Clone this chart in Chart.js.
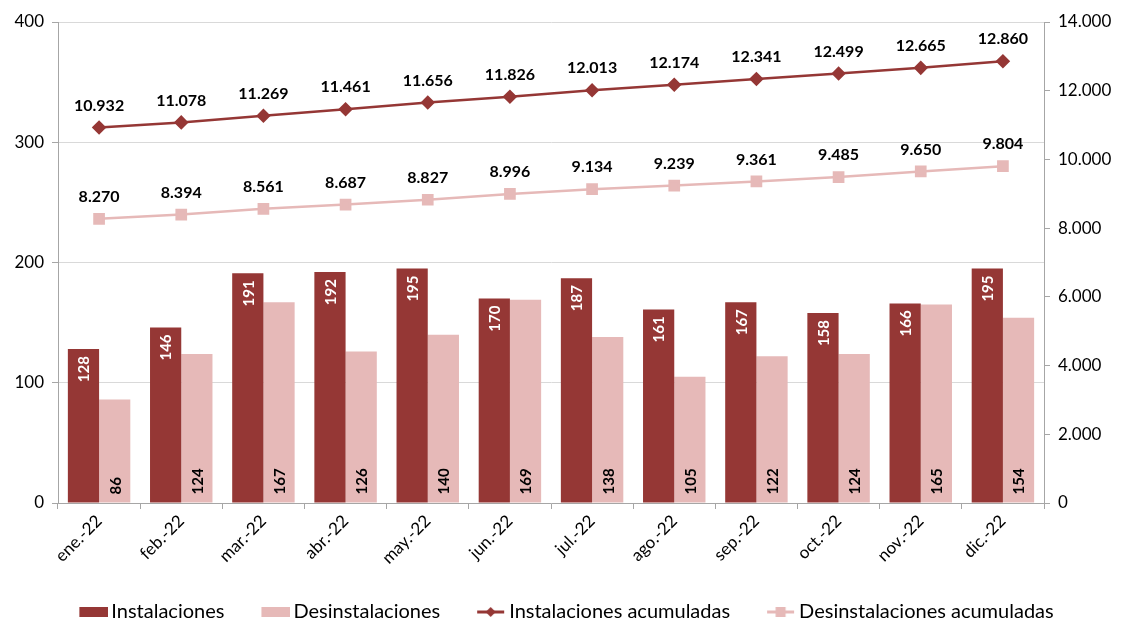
<!DOCTYPE html>
<html>
<head>
<meta charset="utf-8">
<script src="https://cdn.jsdelivr.net/npm/chart.js@4/dist/chart.umd.min.js"></script>
<style>
  html, body { margin: 0; padding: 0; background: #fff; }
  #wrap { width: 1126px; height: 624px; }
</style>
</head>
<body>
<div id="wrap"><canvas id="chart" width="1126" height="624"></canvas></div>
<script>
const months = ['ene.-22', 'feb.-22', 'mar.-22', 'abr.-22', 'may.-22', 'jun.-22',
                'jul.-22', 'ago.-22', 'sep.-22', 'oct.-22', 'nov.-22', 'dic.-22'];
const instalaciones = [128, 146, 191, 192, 195, 170, 187, 161, 167, 158, 166, 195];
const desinstalaciones = [86, 124, 167, 126, 140, 169, 138, 105, 122, 124, 165, 154];
const instAcumuladas = [10932, 11078, 11269, 11461, 11656, 11826, 12013, 12174, 12341, 12499, 12665, 12860];
const desinstAcumuladas = [8270, 8394, 8561, 8687, 8827, 8996, 9134, 9239, 9361, 9485, 9650, 9804];
const leftTicks = [0, 100, 200, 300, 400];
const rightTicks = [0, 2000, 4000, 6000, 8000, 10000, 12000, 14000];

const DARK = '#953735';
const PINK = '#E6B9B8';
const FONT = 'Lato, "DejaVu Sans", sans-serif';
const LEGEND_SIZE = 20;
const ICON_W = 29;

// miles con punto, como en el original
function fmt(v) {
    return String(v).replace(/\B(?=(\d{3})+(?!\d))/g, '.');
}

// iconos de la leyenda: el dibujo va pegado a la derecha para que quede junto al texto
function legendIcon(kind, color) {
    const shift = 7;
    const c = document.createElement('canvas');
    c.width = ICON_W + 2 * shift;
    c.height = 14;
    const g = c.getContext('2d');
    const x0 = 2 * shift;
    g.fillStyle = color;
    g.strokeStyle = color;
    if (kind === 'box') {
        g.fillRect(x0, 2, ICON_W, 10);
    } else {
        g.lineWidth = 3;
        g.beginPath(); g.moveTo(x0, 7); g.lineTo(x0 + 27, 7); g.stroke();
        const cx = x0 + 13.5;
        if (kind === 'diamond') {
            g.beginPath();
            g.moveTo(cx, 2); g.lineTo(cx + 5, 7); g.lineTo(cx, 12); g.lineTo(cx - 5, 7);
            g.closePath(); g.fill();
        } else {
            g.fillRect(cx - 5, 2, 10, 10);
        }
    }
    return c;
}
const icons = [legendIcon('box', DARK), legendIcon('box', PINK),
               legendIcon('diamond', DARK), legendIcon('square', PINK)];

// etiquetas de datos dibujadas a mano
const labelPlugin = {
    id: 'labels',
    afterDatasetsDraw(chart) {
        const ctx = chart.ctx;
        ctx.save();
        chart.data.datasets.forEach((ds, i) => {
            const meta = chart.getDatasetMeta(i);
            meta.data.forEach((el, j) => {
                const v = ds.data[j];
                if (ds.type === 'bar') {
                    ctx.save();
                    ctx.font = 'bold 15px ' + FONT;
                    ctx.textBaseline = 'middle';
                    if (i === 0) {
                        ctx.translate(el.x, el.y + 7);
                        ctx.rotate(-Math.PI / 2);
                        ctx.textAlign = 'right';
                        ctx.fillStyle = '#fff';
                    } else {
                        ctx.translate(el.x, el.base - 8);
                        ctx.rotate(-Math.PI / 2);
                        ctx.textAlign = 'left';
                        ctx.fillStyle = '#000';
                    }
                    ctx.fillText(String(v), 0, 1);
                    ctx.restore();
                } else {
                    ctx.font = 'bold 16px ' + FONT;
                    ctx.fillStyle = '#000';
                    ctx.textAlign = 'center';
                    ctx.textBaseline = 'middle';
                    ctx.fillText(fmt(v), el.x, el.y - 22);
                }
            });
        });
        ctx.restore();
    }
};

new Chart(document.getElementById('chart'), {
    data: {
        labels: months,
        datasets: [
            {
                type: 'bar', label: 'Instalaciones', data: instalaciones,
                backgroundColor: DARK, yAxisID: 'y', order: 2,
                barPercentage: 1, categoryPercentage: 0.76
            },
            {
                type: 'bar', label: 'Desinstalaciones', data: desinstalaciones,
                backgroundColor: PINK, yAxisID: 'y', order: 2,
                barPercentage: 1, categoryPercentage: 0.76
            },
            {
                type: 'line', label: 'Instalaciones acumuladas', data: instAcumuladas,
                borderColor: DARK, backgroundColor: DARK, borderWidth: 2.5,
                pointStyle: 'rectRot', pointRadius: 5.5, yAxisID: 'y1', order: 1
            },
            {
                type: 'line', label: 'Desinstalaciones acumuladas', data: desinstAcumuladas,
                borderColor: PINK, backgroundColor: PINK, borderWidth: 2.5,
                pointStyle: 'rect', pointRadius: 6.5, yAxisID: 'y1', order: 1
            }
        ]
    },
    options: {
        responsive: false,
        animation: false,
        layout: { padding: { top: 22, right: 0, left: 0, bottom: -8 } },
        plugins: {
            tooltip: { enabled: false },
            legend: {
                position: 'bottom',
                labels: {
                    usePointStyle: true,
                    pointStyleWidth: ICON_W,
                    padding: 30,
                    color: '#000',
                    font: { family: FONT, size: LEGEND_SIZE },
                    generateLabels(chart) {
                        return chart.data.datasets.map((ds, i) => ({
                            text: ds.label,
                            pointStyle: icons[i],
                            fillStyle: ds.backgroundColor,
                            strokeStyle: ds.backgroundColor,
                            lineWidth: 0,
                            hidden: false,
                            datasetIndex: i,
                            fontColor: '#000'
                        }));
                    }
                }
            }
        },
        scales: {
            x: {
                offset: true,
                grid: {
                    offset: true, drawOnChartArea: false, drawTicks: true,
                    tickLength: 6, color: '#A6A6A6'
                },
                border: { color: '#A6A6A6', width: 1 },
                ticks: {
                    color: '#000', maxRotation: 45, minRotation: 45,
                    font: { family: FONT, size: 17 }, padding: 2
                },
                afterFit(s) { s.height = 69; }
            },
            y: {
                position: 'left', min: 0, max: 400,
                afterBuildTicks(s) { s.ticks = leftTicks.map(v => ({ value: v })); },
                grid: { color: '#D9D9D9', lineWidth: 1, tickLength: 6, tickColor: '#A6A6A6' },
                border: { color: '#A6A6A6', width: 1 },
                ticks: { color: '#000', font: { family: FONT, size: 17 }, padding: 8 },
                afterFit(s) { s.width = 58; }
            },
            y1: {
                position: 'right', min: 0, max: 14000,
                afterBuildTicks(s) { s.ticks = rightTicks.map(v => ({ value: v })); },
                grid: { drawOnChartArea: false, tickLength: 6, color: '#A6A6A6' },
                border: { color: '#A6A6A6', width: 1 },
                ticks: {
                    color: '#000', font: { family: FONT, size: 17 }, padding: 8,
                    callback: v => fmt(v)
                },
                afterFit(s) { s.width = 82; }
            }
        }
    },
    plugins: [labelPlugin]
});
</script>
</body>
</html>
